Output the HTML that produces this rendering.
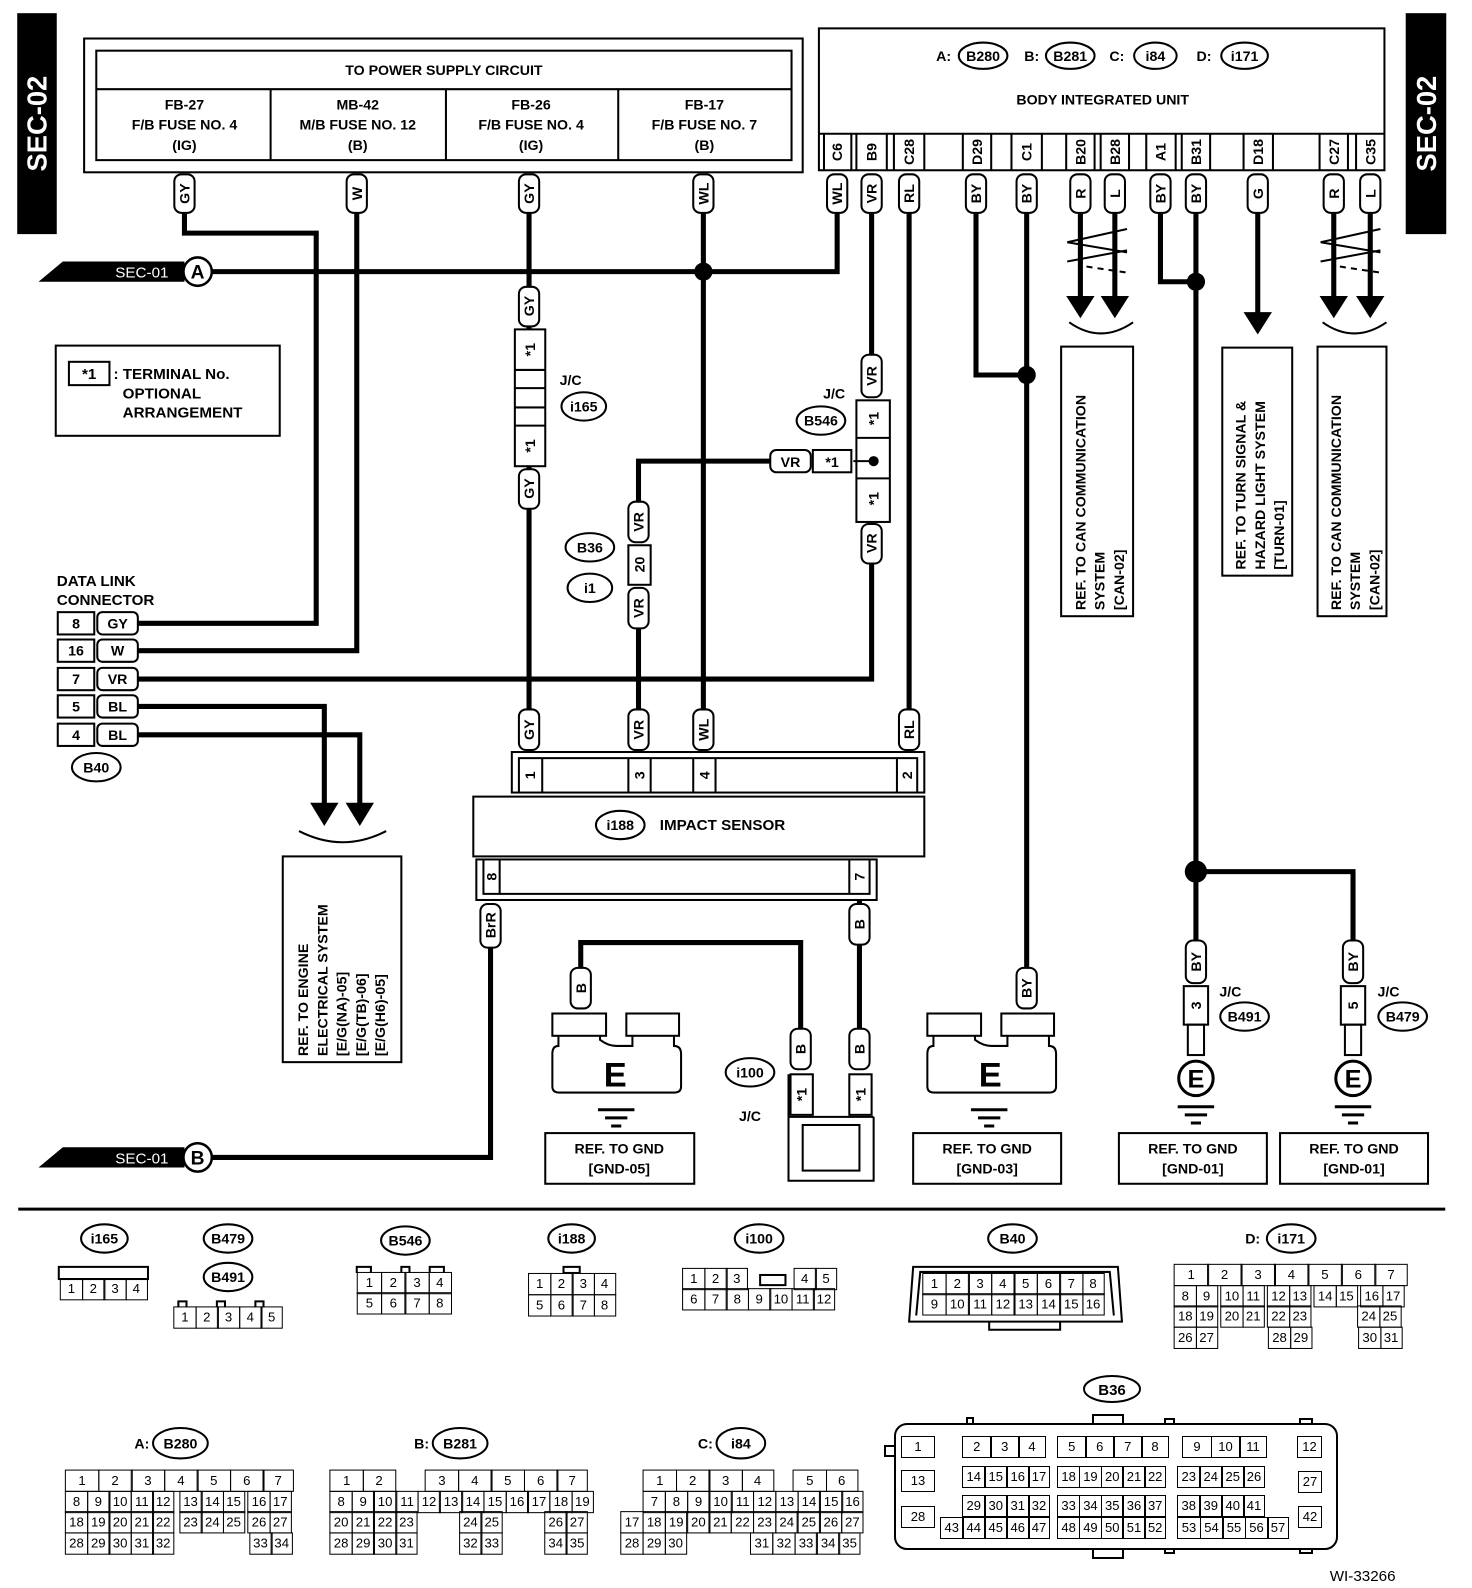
<!DOCTYPE html>
<html><head><meta charset="utf-8"><style>
body{margin:0;background:#fff;}
#w{position:absolute;left:0;top:0;width:1453px;height:1567px;transform:scale(1.0135);transform-origin:0 0;}
svg{position:absolute;left:0;top:0;}
text{font-family:"Liberation Sans",Arial,sans-serif;font-weight:bold;font-size:14px;fill:#000;}
.r{position:absolute;display:flex;height:22px;}
.r b,.r i{display:block;box-sizing:border-box;height:22px;flex:none;}
.r b{border:1.5px solid #000;margin-right:-1.5px;font:13px "Liberation Sans",Arial,sans-serif;text-align:center;line-height:19px;}
</style></head><body>
<div id="w">
<svg width="1453" height="1567" viewBox="0 0 1453 1567">
<g fill="none" stroke="#000" stroke-width="2">
<rect x="18" y="14" width="37" height="216" fill="#000"/>
<rect x="1388" y="14" width="38" height="216" fill="#000"/>
<rect x="83" y="38" width="709" height="132"/>
<rect x="95" y="50" width="686" height="108"/>
<line x1="95" y1="88" x2="781" y2="88"/>
<line x1="267" y1="88" x2="267" y2="158"/><line x1="440" y1="88" x2="440" y2="158"/><line x1="610" y1="88" x2="610" y2="158"/>
<rect x="808" y="28" width="558" height="140"/>
<line x1="808" y1="132" x2="1366" y2="132"/>
<path d="M813 132V168M840 132V168M845 132V168M875 132V168M882 132V168M912 132V168M950 132V168M978 132V168M998 132V168M1028 132V168M1052 132V168M1080 132V168M1086 132V168M1114 132V168M1131 132V168M1160 132V168M1166 132V168M1194 132V168M1227 132V168M1256 132V168M1302 132V168M1330 132V168M1338 132V168"/>
<rect x="55" y="341" width="221" height="89"/>
<rect x="68" y="357" width="40" height="23"/>
<rect x="57" y="604" width="36" height="22"/><rect x="96" y="604" width="40" height="22" rx="5"/>
<rect x="57" y="631" width="36" height="22"/><rect x="96" y="631" width="40" height="22" rx="5"/>
<rect x="57" y="659" width="36" height="22"/><rect x="96" y="659" width="40" height="22" rx="5"/>
<rect x="57" y="686" width="36" height="22"/><rect x="96" y="686" width="40" height="22" rx="5"/>
<rect x="57" y="714" width="36" height="22"/><rect x="96" y="714" width="40" height="22" rx="5"/>
<rect x="279" y="845" width="117" height="203"/>
<rect x="1047" y="342" width="71" height="266"/>
<rect x="1206" y="343" width="69" height="225"/>
<rect x="1300" y="342" width="68" height="266"/>
<rect x="538" y="1118" width="147" height="50"/>
<rect x="901" y="1118" width="146" height="50"/>
<rect x="1104" y="1118" width="146" height="50"/>
<rect x="1263" y="1118" width="146" height="50"/>
<path d="M295 820Q338 842 381 820M1055 318Q1086 340 1118 318M1305 318Q1336 340 1368 318"/>
<rect x="505" y="742" width="407" height="40"/>
<path d="M512 782V748H905V782M535 748V782M620 748V782M642 748V782M684 748V782M706 748V782M885 748V782"/>
<rect x="467" y="786" width="445" height="59"/>
<rect x="470" y="848" width="395" height="40"/>
<path d="M477 848V882H858V848M493 848V882M838 848V882"/>
<rect x="508" y="325" width="30" height="135"/>
<path d="M508 365H538M508 420H538M508 383H538M508 402H538"/>
<rect x="845" y="395" width="33" height="120"/>
<path d="M845 432H878M845 472H878"/>
<rect x="760" y="444" width="40" height="22" rx="6"/>
<rect x="802" y="444" width="38" height="22"/>
<rect x="620" y="538" width="22" height="39"/>
<path d="M778 1060V1165H862V1102M778 1102H862"/>
<rect x="780" y="1060" width="22" height="40"/><rect x="838" y="1060" width="22" height="40"/>
<rect x="792" y="1110" width="56" height="45"/>
<rect x="545" y="1000" width="53" height="22"/><rect x="618" y="1000" width="52" height="22"/>
<path d="M551 1022V1032Q545 1032 545 1040V1072Q545 1078 552 1078H665Q672 1078 672 1072V1040Q672 1032 665 1032V1022M592 1022V1026Q600 1032 608 1032H624V1022"/>
<rect x="915" y="1000" width="53" height="22"/><rect x="988" y="1000" width="52" height="22"/>
<path d="M921 1022V1032Q915 1032 915 1040V1072Q915 1078 922 1078H1035Q1042 1078 1042 1072V1040Q1042 1032 1035 1032V1022M962 1022V1026Q970 1032 978 1032H994V1022"/>
<g stroke-width="3"><path d="M590 1095H626M597 1103H619M603 1111H613M958 1095H994M965 1103H987M971 1111H981M1162 1092H1198M1169 1100H1191M1175 1108H1185M1317 1092H1353M1324 1100H1346M1330 1108H1340"/></g>
<rect x="1168" y="973" width="24" height="38"/><rect x="1172" y="1011" width="16" height="30"/>
<circle cx="1180" cy="1064" r="17" stroke-width="3"/>
<rect x="1323" y="973" width="24" height="38"/><rect x="1327" y="1011" width="16" height="30"/>
<circle cx="1335" cy="1064" r="17" stroke-width="3"/>
<path d="M1053 239L1112 226M1053 239L1112 249M1053 258L1112 247M1303 239L1362 226M1303 239L1362 249M1303 258L1362 247"/>
<path d="M1072 263L1112 269M1322 263L1362 269" stroke-dasharray="6 5"/>
<line x1="18" y1="1193" x2="1426" y2="1193" stroke-width="3"/>
<ellipse cx="970" cy="55" rx="24" ry="13"/><ellipse cx="1056" cy="55" rx="24" ry="13"/><ellipse cx="1140" cy="55" rx="21" ry="13"/><ellipse cx="1228" cy="55" rx="23" ry="13"/>
<ellipse cx="576" cy="401" rx="22" ry="14"/><ellipse cx="810" cy="415" rx="24" ry="14"/>
<ellipse cx="582" cy="540" rx="24" ry="14"/><ellipse cx="582" cy="580" rx="22" ry="14"/>
<ellipse cx="95" cy="757" rx="24" ry="14"/><ellipse cx="612" cy="814" rx="24" ry="14"/>
<ellipse cx="740" cy="1058" rx="24" ry="14"/><ellipse cx="1228" cy="1003" rx="24" ry="14"/><ellipse cx="1384" cy="1003" rx="24" ry="14"/>
<ellipse cx="103" cy="1222" rx="23" ry="14"/><ellipse cx="225" cy="1222" rx="24" ry="14"/><ellipse cx="225" cy="1260" rx="24" ry="14"/>
<ellipse cx="400" cy="1224" rx="24" ry="14"/><ellipse cx="564" cy="1222" rx="23" ry="14"/><ellipse cx="749" cy="1222" rx="24" ry="14"/>
<ellipse cx="999" cy="1222" rx="24" ry="14"/><ellipse cx="1274" cy="1222" rx="24" ry="14"/>
<ellipse cx="178" cy="1424" rx="27" ry="15"/><ellipse cx="454" cy="1424" rx="27" ry="15"/><ellipse cx="731" cy="1424" rx="24" ry="15"/>
<rect x="58" y="1250" width="88" height="12"/>
<path d="M176 1290V1284H184V1290M214 1290V1284H222V1290M252 1290V1284H260V1290"/>
<path d="M352 1256V1250H366V1256M396 1256V1250H404V1256M424 1256V1250H438V1256"/>
<rect x="556" y="1250" width="16" height="6"/>
<rect x="750" y="1258" width="25" height="10"/>
<path d="M897 1304L901 1250H1103L1107 1304ZM904 1298L908 1255H1095L1099 1298M976 1304V1312H1046V1304"/>
</g>
<g fill="none" stroke="#000" stroke-width="5">
<path d="M182 210V230H312V615H136M352 210V642H136M136 670H860V556M136 697H320V795M136 725H355V795M209 268H826V210"/>
<path d="M522 210V283M522 322V325M522 460V463M522 502V700M694 210V700M860 210V350M760 455H630V495M630 620V700M897 210V700"/>
<path d="M484 935V1142H209M848 888V892M848 932V1015M573 955V930H790V1015"/>
<path d="M963 210V370H1013M1013 210V955M1066 210V295M1100 210V295M1145 210V278H1180M1180 210V928M1180 860H1335V928M1241 210V310M1316 210V295M1352 210V295"/>
</g>
<g fill="#000">
<polygon points="306,792 334,792 320,815"/><polygon points="341,792 369,792 355,815"/>
<polygon points="1052,292 1080,292 1066,314"/><polygon points="1086,292 1114,292 1100,314"/>
<polygon points="1227,308 1255,308 1241,330"/>
<polygon points="1302,292 1330,292 1316,314"/><polygon points="1338,292 1366,292 1352,314"/>
<circle cx="694" cy="268" r="9"/><circle cx="1013" cy="370" r="9"/><circle cx="1180" cy="278" r="9"/><circle cx="1180" cy="860" r="11"/><circle cx="862" cy="455" r="5"/>
<polygon points="38,278 62,258 182,258 182,278"/><polygon points="38,1152 62,1132 182,1132 182,1152"/>
</g>
<line x1="842" y1="455" x2="862" y2="455" stroke="#000" stroke-width="2"/>
<circle cx="195" cy="268" r="14" fill="#fff" stroke="#000" stroke-width="2.5"/>
<circle cx="195" cy="1142" r="14" fill="#fff" stroke="#000" stroke-width="2.5"/>
<text x="140" y="274" text-anchor="middle" style="fill:#fff;font-size:15px;font-weight:normal">SEC-01</text>
<text x="140" y="1148" text-anchor="middle" style="fill:#fff;font-size:15px;font-weight:normal">SEC-01</text>
<text x="195" y="275" text-anchor="middle" style="font-size:19px">A</text>
<text x="195" y="1149" text-anchor="middle" style="font-size:19px">B</text>
<text transform="translate(46,122) rotate(-90)" text-anchor="middle" style="fill:#fff;font-size:27px">SEC-02</text>
<text transform="translate(1417,122) rotate(-90)" text-anchor="middle" style="fill:#fff;font-size:27px">SEC-02</text>
<g fill="#fff" stroke="#000" stroke-width="2">
<rect x="172" y="172" width="20" height="38" rx="7"/><rect x="342" y="172" width="20" height="38" rx="7"/><rect x="512" y="172" width="20" height="38" rx="7"/><rect x="684" y="172" width="20" height="38" rx="7"/>
<rect x="816" y="172" width="20" height="38" rx="7"/><rect x="850" y="172" width="20" height="38" rx="7"/><rect x="887" y="172" width="20" height="38" rx="7"/><rect x="953" y="172" width="20" height="38" rx="7"/><rect x="1003" y="172" width="20" height="38" rx="7"/><rect x="1056" y="172" width="20" height="38" rx="7"/><rect x="1090" y="172" width="20" height="38" rx="7"/><rect x="1135" y="172" width="20" height="38" rx="7"/><rect x="1170" y="172" width="20" height="38" rx="7"/><rect x="1231" y="172" width="20" height="38" rx="7"/><rect x="1306" y="172" width="20" height="38" rx="7"/><rect x="1342" y="172" width="20" height="38" rx="7"/>
<rect x="512" y="283" width="20" height="39" rx="7"/><rect x="512" y="463" width="20" height="39" rx="7"/>
<rect x="850" y="350" width="20" height="42" rx="7"/><rect x="850" y="517" width="20" height="39" rx="7"/>
<rect x="620" y="495" width="20" height="40" rx="7"/><rect x="620" y="580" width="20" height="40" rx="7"/>
<rect x="512" y="700" width="20" height="40" rx="7"/><rect x="620" y="700" width="20" height="40" rx="7"/><rect x="684" y="700" width="20" height="40" rx="7"/><rect x="887" y="700" width="20" height="40" rx="7"/>
<rect x="474" y="892" width="20" height="43" rx="7"/><rect x="838" y="892" width="20" height="40" rx="7"/>
<rect x="563" y="955" width="20" height="40" rx="7"/><rect x="780" y="1015" width="20" height="40" rx="7"/><rect x="838" y="1015" width="20" height="40" rx="7"/>
<rect x="1003" y="955" width="20" height="40" rx="7"/><rect x="1170" y="928" width="20" height="42" rx="7"/><rect x="1325" y="928" width="20" height="42" rx="7"/>
</g>
<g>
<text transform="translate(187,191) rotate(-90)" text-anchor="middle">GY</text>
<text transform="translate(357,191) rotate(-90)" text-anchor="middle">W</text>
<text transform="translate(527,191) rotate(-90)" text-anchor="middle">GY</text>
<text transform="translate(699,191) rotate(-90)" text-anchor="middle">WL</text>
<text transform="translate(831,191) rotate(-90)" text-anchor="middle">WL</text>
<text transform="translate(865,191) rotate(-90)" text-anchor="middle">VR</text>
<text transform="translate(902,191) rotate(-90)" text-anchor="middle">RL</text>
<text transform="translate(968,191) rotate(-90)" text-anchor="middle">BY</text>
<text transform="translate(1018,191) rotate(-90)" text-anchor="middle">BY</text>
<text transform="translate(1071,191) rotate(-90)" text-anchor="middle">R</text>
<text transform="translate(1105,191) rotate(-90)" text-anchor="middle">L</text>
<text transform="translate(1150,191) rotate(-90)" text-anchor="middle">BY</text>
<text transform="translate(1185,191) rotate(-90)" text-anchor="middle">BY</text>
<text transform="translate(1246,191) rotate(-90)" text-anchor="middle">G</text>
<text transform="translate(1321,191) rotate(-90)" text-anchor="middle">R</text>
<text transform="translate(1357,191) rotate(-90)" text-anchor="middle">L</text>
<text transform="translate(527,302) rotate(-90)" text-anchor="middle">GY</text>
<text transform="translate(527,482) rotate(-90)" text-anchor="middle">GY</text>
<text transform="translate(865,371) rotate(-90)" text-anchor="middle">VR</text>
<text transform="translate(865,536) rotate(-90)" text-anchor="middle">VR</text>
<text transform="translate(635,515) rotate(-90)" text-anchor="middle">VR</text>
<text transform="translate(635,600) rotate(-90)" text-anchor="middle">VR</text>
<text transform="translate(527,720) rotate(-90)" text-anchor="middle">GY</text>
<text transform="translate(635,720) rotate(-90)" text-anchor="middle">VR</text>
<text transform="translate(699,720) rotate(-90)" text-anchor="middle">WL</text>
<text transform="translate(902,720) rotate(-90)" text-anchor="middle">RL</text>
<text transform="translate(489,913) rotate(-90)" text-anchor="middle">BrR</text>
<text transform="translate(853,912) rotate(-90)" text-anchor="middle">B</text>
<text transform="translate(578,975) rotate(-90)" text-anchor="middle">B</text>
<text transform="translate(795,1035) rotate(-90)" text-anchor="middle">B</text>
<text transform="translate(853,1035) rotate(-90)" text-anchor="middle">B</text>
<text transform="translate(1018,975) rotate(-90)" text-anchor="middle">BY</text>
<text transform="translate(1185,949) rotate(-90)" text-anchor="middle">BY</text>
<text transform="translate(1340,949) rotate(-90)" text-anchor="middle">BY</text>
<text transform="translate(528,345) rotate(-90)" text-anchor="middle">*1</text>
<text transform="translate(528,440) rotate(-90)" text-anchor="middle">*1</text>
<text transform="translate(867,413) rotate(-90)" text-anchor="middle">*1</text>
<text transform="translate(867,492) rotate(-90)" text-anchor="middle">*1</text>
<text transform="translate(636,557) rotate(-90)" text-anchor="middle">20</text>
<text transform="translate(796,1080) rotate(-90)" text-anchor="middle">*1</text>
<text transform="translate(854,1080) rotate(-90)" text-anchor="middle">*1</text>
<text transform="translate(1185,992) rotate(-90)" text-anchor="middle">3</text>
<text transform="translate(1340,992) rotate(-90)" text-anchor="middle">5</text>
<text transform="translate(528,765) rotate(-90)" text-anchor="middle">1</text>
<text transform="translate(636,765) rotate(-90)" text-anchor="middle">3</text>
<text transform="translate(700,765) rotate(-90)" text-anchor="middle">4</text>
<text transform="translate(900,765) rotate(-90)" text-anchor="middle">2</text>
<text transform="translate(490,865) rotate(-90)" text-anchor="middle">8</text>
<text transform="translate(853,865) rotate(-90)" text-anchor="middle">7</text>
<text transform="translate(831,150) rotate(-90)" text-anchor="middle">C6</text>
<text transform="translate(865,150) rotate(-90)" text-anchor="middle">B9</text>
<text transform="translate(902,150) rotate(-90)" text-anchor="middle">C28</text>
<text transform="translate(969,150) rotate(-90)" text-anchor="middle">D29</text>
<text transform="translate(1018,150) rotate(-90)" text-anchor="middle">C1</text>
<text transform="translate(1071,150) rotate(-90)" text-anchor="middle">B20</text>
<text transform="translate(1105,150) rotate(-90)" text-anchor="middle">B28</text>
<text transform="translate(1150,150) rotate(-90)" text-anchor="middle">A1</text>
<text transform="translate(1185,150) rotate(-90)" text-anchor="middle">B31</text>
<text transform="translate(1246,150) rotate(-90)" text-anchor="middle">D18</text>
<text transform="translate(1321,150) rotate(-90)" text-anchor="middle">C27</text>
<text transform="translate(1357,150) rotate(-90)" text-anchor="middle">C35</text>
</g>
<text x="780" y="461" text-anchor="middle">VR</text>
<text x="821" y="461" text-anchor="middle">*1</text>
<g text-anchor="middle">
<text x="438" y="74">TO POWER SUPPLY CIRCUIT</text>
<text x="182" y="108">FB-27</text><text x="182" y="128">F/B FUSE NO. 4</text><text x="182" y="148">(IG)</text>
<text x="353" y="108">MB-42</text><text x="353" y="128">M/B FUSE NO. 12</text><text x="353" y="148">(B)</text>
<text x="524" y="108">FB-26</text><text x="524" y="128">F/B FUSE NO. 4</text><text x="524" y="148">(IG)</text>
<text x="695" y="108">FB-17</text><text x="695" y="128">F/B FUSE NO. 7</text><text x="695" y="148">(B)</text>
<text x="1088" y="103">BODY INTEGRATED UNIT</text>
</g>
<g text-anchor="middle">
<text x="931" y="60">A:</text><text x="970" y="60">B280</text>
<text x="1018" y="60">B:</text><text x="1056" y="60">B281</text>
<text x="1102" y="60">C:</text><text x="1140" y="60">i84</text>
<text x="1188" y="60">D:</text><text x="1228" y="60">i171</text>
<text x="576" y="406">i165</text><text x="563" y="380">J/C</text>
<text x="810" y="420">B546</text><text x="823" y="393">J/C</text>
<text x="582" y="545">B36</text><text x="582" y="585">i1</text>
<text x="95" y="762">B40</text><text x="612" y="819">i188</text>
<text x="740" y="1063">i100</text><text x="740" y="1106">J/C</text>
<text x="1228" y="1008">B491</text><text x="1214" y="983">J/C</text>
<text x="1384" y="1008">B479</text><text x="1370" y="983">J/C</text>
<text x="103" y="1227">i165</text><text x="225" y="1227">B479</text><text x="225" y="1265">B491</text>
<text x="400" y="1229">B546</text><text x="564" y="1227">i188</text><text x="749" y="1227">i100</text>
<text x="999" y="1227">B40</text><text x="1274" y="1227">i171</text><text x="1236" y="1227">D:</text>
<text x="178" y="1429">B280</text><text x="140" y="1429">A:</text>
<text x="454" y="1429">B281</text><text x="416" y="1429">B:</text>
<text x="731" y="1429">i84</text><text x="696" y="1429">C:</text>
</g>
<text x="651" y="819" style="font-size:15px">IMPACT SENSOR</text>
<text x="88" y="374" style="font-size:15px" text-anchor="middle">*1</text>
<text x="112" y="374" style="font-size:15px">: TERMINAL No.</text>
<text x="121" y="393" style="font-size:15px">OPTIONAL</text>
<text x="121" y="412" style="font-size:15px">ARRANGEMENT</text>
<text x="56" y="578" style="font-size:15px">DATA LINK</text>
<text x="56" y="597" style="font-size:15px">CONNECTOR</text>
<g text-anchor="middle">
<text x="75" y="620">8</text><text x="116" y="620">GY</text>
<text x="75" y="647">16</text><text x="116" y="647">W</text>
<text x="75" y="675">7</text><text x="116" y="675">VR</text>
<text x="75" y="702">5</text><text x="116" y="702">BL</text>
<text x="75" y="730">4</text><text x="116" y="730">BL</text>
</g>
<text x="607" y="1072" text-anchor="middle" style="font-size:34px">E</text>
<text x="977" y="1072" text-anchor="middle" style="font-size:34px">E</text>
<text x="1180" y="1073" text-anchor="middle" style="font-size:25px">E</text>
<text x="1335" y="1073" text-anchor="middle" style="font-size:25px">E</text>
<g text-anchor="middle">
<text x="611" y="1138">REF. TO GND</text><text x="611" y="1158">[GND-05]</text>
<text x="974" y="1138">REF. TO GND</text><text x="974" y="1158">[GND-03]</text>
<text x="1177" y="1138">REF. TO GND</text><text x="1177" y="1158">[GND-01]</text>
<text x="1336" y="1138">REF. TO GND</text><text x="1336" y="1158">[GND-01]</text>
</g>
<g>
<text transform="translate(304,1042) rotate(-90)">REF. TO ENGINE</text>
<text transform="translate(323,1042) rotate(-90)">ELECTRICAL SYSTEM</text>
<text transform="translate(342,1042) rotate(-90)">[E/G(NA)-05]</text>
<text transform="translate(361,1042) rotate(-90)">[E/G(TB)-06]</text>
<text transform="translate(380,1042) rotate(-90)">[E/G(H6)-05]</text>
<text transform="translate(1071,602) rotate(-90)">REF. TO CAN COMMUNICATION</text>
<text transform="translate(1090,602) rotate(-90)">SYSTEM</text>
<text transform="translate(1109,602) rotate(-90)">[CAN-02]</text>
<text transform="translate(1229,562) rotate(-90)">REF. TO TURN SIGNAL &amp;</text>
<text transform="translate(1248,562) rotate(-90)">HAZARD LIGHT SYSTEM</text>
<text transform="translate(1267,562) rotate(-90)">[TURN-01]</text>
<text transform="translate(1323,602) rotate(-90)">REF. TO CAN COMMUNICATION</text>
<text transform="translate(1342,602) rotate(-90)">SYSTEM</text>
<text transform="translate(1361,602) rotate(-90)">[CAN-02]</text>
</g>
<text x="1312" y="1560" style="font-size:15px;font-weight:normal">WI-33266</text>
</svg>

<div class="r" style="left:59px;top:1261px"><b style="width:23px">1</b><b style="width:23px">2</b><b style="width:23px">3</b><b style="width:22px">4</b></div>
<div class="r" style="left:171px;top:1289px"><b style="width:23px">1</b><b style="width:23px">2</b><b style="width:23px">3</b><b style="width:23px">4</b><b style="width:22px">5</b></div>
<div class="r" style="left:352px;top:1255px"><b style="width:25px">1</b><b style="width:25px">2</b><b style="width:25px">3</b><b style="width:23px">4</b></div>
<div class="r" style="left:352px;top:1275px"><b style="width:25px">5</b><b style="width:25px">6</b><b style="width:25px">7</b><b style="width:23px">8</b></div>
<div class="r" style="left:521px;top:1256px"><b style="width:23px">1</b><b style="width:23px">2</b><b style="width:23px">3</b><b style="width:22px">4</b></div>
<div class="r" style="left:521px;top:1277px"><b style="width:23px">5</b><b style="width:23px">6</b><b style="width:23px">7</b><b style="width:22px">8</b></div>
<div class="r" style="left:673px;top:1251px"><b style="width:23px">1</b><b style="width:23px">2</b><b style="width:22px">3</b><i style="width:46px"></i><b style="width:23px">4</b><b style="width:22px">5</b></div>
<div class="r" style="left:673px;top:1271px"><b style="width:23px">6</b><b style="width:23px">7</b><b style="width:23px">8</b><b style="width:23px">9</b><b style="width:23px">10</b><b style="width:23px">11</b><b style="width:22px">12</b></div>
<div class="r" style="left:910px;top:1256px"><b style="width:24px">1</b><b style="width:24px">2</b><b style="width:24px">3</b><b style="width:24px">4</b><b style="width:24px">5</b><b style="width:24px">6</b><b style="width:24px">7</b><b style="width:22px">8</b></div>
<div class="r" style="left:910px;top:1276px"><b style="width:24px">9</b><b style="width:24px">10</b><b style="width:24px">11</b><b style="width:24px">12</b><b style="width:24px">13</b><b style="width:24px">14</b><b style="width:24px">15</b><b style="width:22px">16</b></div>
<div class="r" style="left:1158px;top:1247px"><b style="width:34.5px">1</b><b style="width:34.5px">2</b><b style="width:34.5px">3</b><b style="width:34.5px">4</b><b style="width:34.5px">5</b><b style="width:34.5px">6</b><b style="width:33px">7</b></div>
<div class="r" style="left:1158px;top:1267.5px"><b style="width:23px">8</b><b style="width:22px">9</b><i style="width:4px"></i><b style="width:23px">10</b><b style="width:22px">11</b><i style="width:4px"></i><b style="width:23px">12</b><b style="width:22px">13</b><i style="width:4px"></i><b style="width:23px">14</b><b style="width:22px">15</b><i style="width:4px"></i><b style="width:23px">16</b><b style="width:22px">17</b></div>
<div class="r" style="left:1158px;top:1288px"><b style="width:23px">18</b><b style="width:22px">19</b><i style="width:4px"></i><b style="width:23px">20</b><b style="width:22px">21</b><i style="width:4px"></i><b style="width:23px">22</b><b style="width:22px">23</b><i style="width:47px"></i><b style="width:23px">24</b><b style="width:22px">25</b></div>
<div class="r" style="left:1158px;top:1308.5px"><b style="width:23px">26</b><b style="width:22px">27</b><i style="width:51px"></i><b style="width:23px">28</b><b style="width:22px">29</b><i style="width:47px"></i><b style="width:23px">30</b><b style="width:22px">31</b></div>
<div class="r" style="left:64px;top:1450px"><b style="width:34px">1</b><b style="width:34px">2</b><b style="width:34px">3</b><b style="width:34px">4</b><b style="width:34px">5</b><b style="width:34px">6</b><b style="width:31px">7</b></div>
<div class="r" style="left:64px;top:1470.5px"><b style="width:23px">8</b><b style="width:23px">9</b><b style="width:23px">10</b><b style="width:23px">11</b><b style="width:22px">12</b><i style="width:6px"></i><b style="width:23px">13</b><b style="width:23px">14</b><b style="width:22px">15</b><i style="width:4px"></i><b style="width:23px">16</b><b style="width:22px">17</b></div>
<div class="r" style="left:64px;top:1491px"><b style="width:23px">18</b><b style="width:23px">19</b><b style="width:23px">20</b><b style="width:23px">21</b><b style="width:22px">22</b><i style="width:6px"></i><b style="width:23px">23</b><b style="width:23px">24</b><b style="width:22px">25</b><i style="width:4px"></i><b style="width:23px">26</b><b style="width:22px">27</b></div>
<div class="r" style="left:64px;top:1511.5px"><b style="width:23px">28</b><b style="width:23px">29</b><b style="width:23px">30</b><b style="width:23px">31</b><b style="width:22px">32</b><i style="width:75px"></i><b style="width:23px">33</b><b style="width:22px">34</b></div>
<div class="r" style="left:325px;top:1450px"><b style="width:34px">1</b><b style="width:33px">2</b><i style="width:30px"></i><b style="width:34px">3</b><b style="width:34px">4</b><b style="width:34px">5</b><b style="width:34px">6</b><b style="width:31px">7</b></div>
<div class="r" style="left:325px;top:1470.5px"><b style="width:23.2px">8</b><b style="width:23.2px">9</b><b style="width:23.2px">10</b><b style="width:23.2px">11</b><b style="width:23.2px">12</b><b style="width:23.2px">13</b><b style="width:23.2px">14</b><b style="width:23.2px">15</b><b style="width:23.2px">16</b><b style="width:23.2px">17</b><b style="width:23.2px">18</b><b style="width:22px">19</b></div>
<div class="r" style="left:325px;top:1491px"><b style="width:23.2px">20</b><b style="width:23.2px">21</b><b style="width:23.2px">22</b><b style="width:22px">23</b><i style="width:42px"></i><b style="width:23.2px">24</b><b style="width:22px">25</b><i style="width:42px"></i><b style="width:23.2px">26</b><b style="width:22px">27</b></div>
<div class="r" style="left:325px;top:1511.5px"><b style="width:23.2px">28</b><b style="width:23.2px">29</b><b style="width:23.2px">30</b><b style="width:22px">31</b><i style="width:42px"></i><b style="width:23.2px">32</b><b style="width:22px">33</b><i style="width:42px"></i><b style="width:23.2px">34</b><b style="width:22px">35</b></div>
<div class="r" style="left:634px;top:1450px"><b style="width:34px">1</b><b style="width:34px">2</b><b style="width:34px">3</b><b style="width:32px">4</b><i style="width:20px"></i><b style="width:34px">5</b><b style="width:32px">6</b></div>
<div class="r" style="left:634px;top:1470.5px"><b style="width:23.3px">7</b><b style="width:23.3px">8</b><b style="width:23.3px">9</b><b style="width:23.3px">10</b><b style="width:23.3px">11</b><b style="width:23.3px">12</b><b style="width:23.3px">13</b><b style="width:23.3px">14</b><b style="width:23.3px">15</b><b style="width:22px">16</b></div>
<div class="r" style="left:612px;top:1491px"><b style="width:23.3px">17</b><b style="width:23.3px">18</b><b style="width:23.3px">19</b><b style="width:23.3px">20</b><b style="width:23.3px">21</b><b style="width:23.3px">22</b><b style="width:23.3px">23</b><b style="width:23.3px">24</b><b style="width:23.3px">25</b><b style="width:23.3px">26</b><b style="width:22px">27</b></div>
<div class="r" style="left:612px;top:1511.5px"><b style="width:23.3px">28</b><b style="width:23.3px">29</b><b style="width:22px">30</b><i style="width:64px"></i><b style="width:23.3px">31</b><b style="width:23.3px">32</b><b style="width:23.3px">33</b><b style="width:23.3px">34</b><b style="width:22px">35</b></div>
</div>

<svg width="1472" height="1588" style="position:absolute;left:0;top:0">
<g fill="none" stroke="#000" stroke-width="2">
<rect x="895" y="1424" width="442" height="125" rx="12"/>
<rect x="885" y="1446" width="10" height="10"/>
<path d="M967 1424V1418H973V1424M1093 1424V1415H1123V1424M1165 1424V1419H1174V1424M1300 1424V1419H1312V1424"/>
<path d="M1093 1549V1558H1123V1549M1165 1549V1553H1174V1549M1300 1549V1553H1312V1549"/>
<ellipse cx="1112" cy="1389" rx="28" ry="13"/>
</g>
<text x="1112" y="1395" text-anchor="middle" style="font-size:15px">B36</text>
</svg>
<div class="r" style="left:901px;top:1436px"><b style="width:34px">1</b></div>
<div class="r" style="left:962px;top:1436px"><b style="width:29.5px">2</b><b style="width:29.5px">3</b><b style="width:28px">4</b></div>
<div class="r" style="left:1057px;top:1436px"><b style="width:29.5px">5</b><b style="width:29.5px">6</b><b style="width:29.5px">7</b><b style="width:28px">8</b></div>
<div class="r" style="left:1182px;top:1436px"><b style="width:30px">9</b><b style="width:30px">10</b><b style="width:28px">11</b></div>
<div class="r" style="left:1297px;top:1436px"><b style="width:25px">12</b></div>
<div class="r" style="left:901px;top:1470px"><b style="width:34px">13</b></div>
<div class="r" style="left:1298px;top:1471px"><b style="width:24px">27</b></div>
<div class="r" style="left:901px;top:1506px"><b style="width:34px">28</b></div>
<div class="r" style="left:1298px;top:1506px"><b style="width:24px">42</b></div>
<div class="r" style="left:962px;top:1466px"><b style="width:23.5px">14</b><b style="width:23.5px">15</b><b style="width:23.5px">16</b><b style="width:22px">17</b></div>
<div class="r" style="left:1057px;top:1466px"><b style="width:23.3px">18</b><b style="width:23.3px">19</b><b style="width:23.3px">20</b><b style="width:23.3px">21</b><b style="width:22px">22</b></div>
<div class="r" style="left:1177px;top:1466px"><b style="width:23.5px">23</b><b style="width:23.5px">24</b><b style="width:23.5px">25</b><b style="width:22px">26</b></div>
<div class="r" style="left:962px;top:1495px"><b style="width:23.5px">29</b><b style="width:23.5px">30</b><b style="width:23.5px">31</b><b style="width:22px">32</b></div>
<div class="r" style="left:1057px;top:1495px"><b style="width:23.3px">33</b><b style="width:23.3px">34</b><b style="width:23.3px">35</b><b style="width:23.3px">36</b><b style="width:22px">37</b></div>
<div class="r" style="left:1177px;top:1495px"><b style="width:23.5px">38</b><b style="width:23.5px">39</b><b style="width:23.5px">40</b><b style="width:22px">41</b></div>
<div class="r" style="left:940px;top:1517px"><b style="width:23.5px">43</b><b style="width:23.5px">44</b><b style="width:23.5px">45</b><b style="width:23.5px">46</b><b style="width:22px">47</b></div>
<div class="r" style="left:1057px;top:1517px"><b style="width:23.3px">48</b><b style="width:23.3px">49</b><b style="width:23.3px">50</b><b style="width:23.3px">51</b><b style="width:22px">52</b></div>
<div class="r" style="left:1177px;top:1517px"><b style="width:24px">53</b><b style="width:24px">54</b><b style="width:24px">55</b><b style="width:24px">56</b><b style="width:22px">57</b></div>
</body></html>
